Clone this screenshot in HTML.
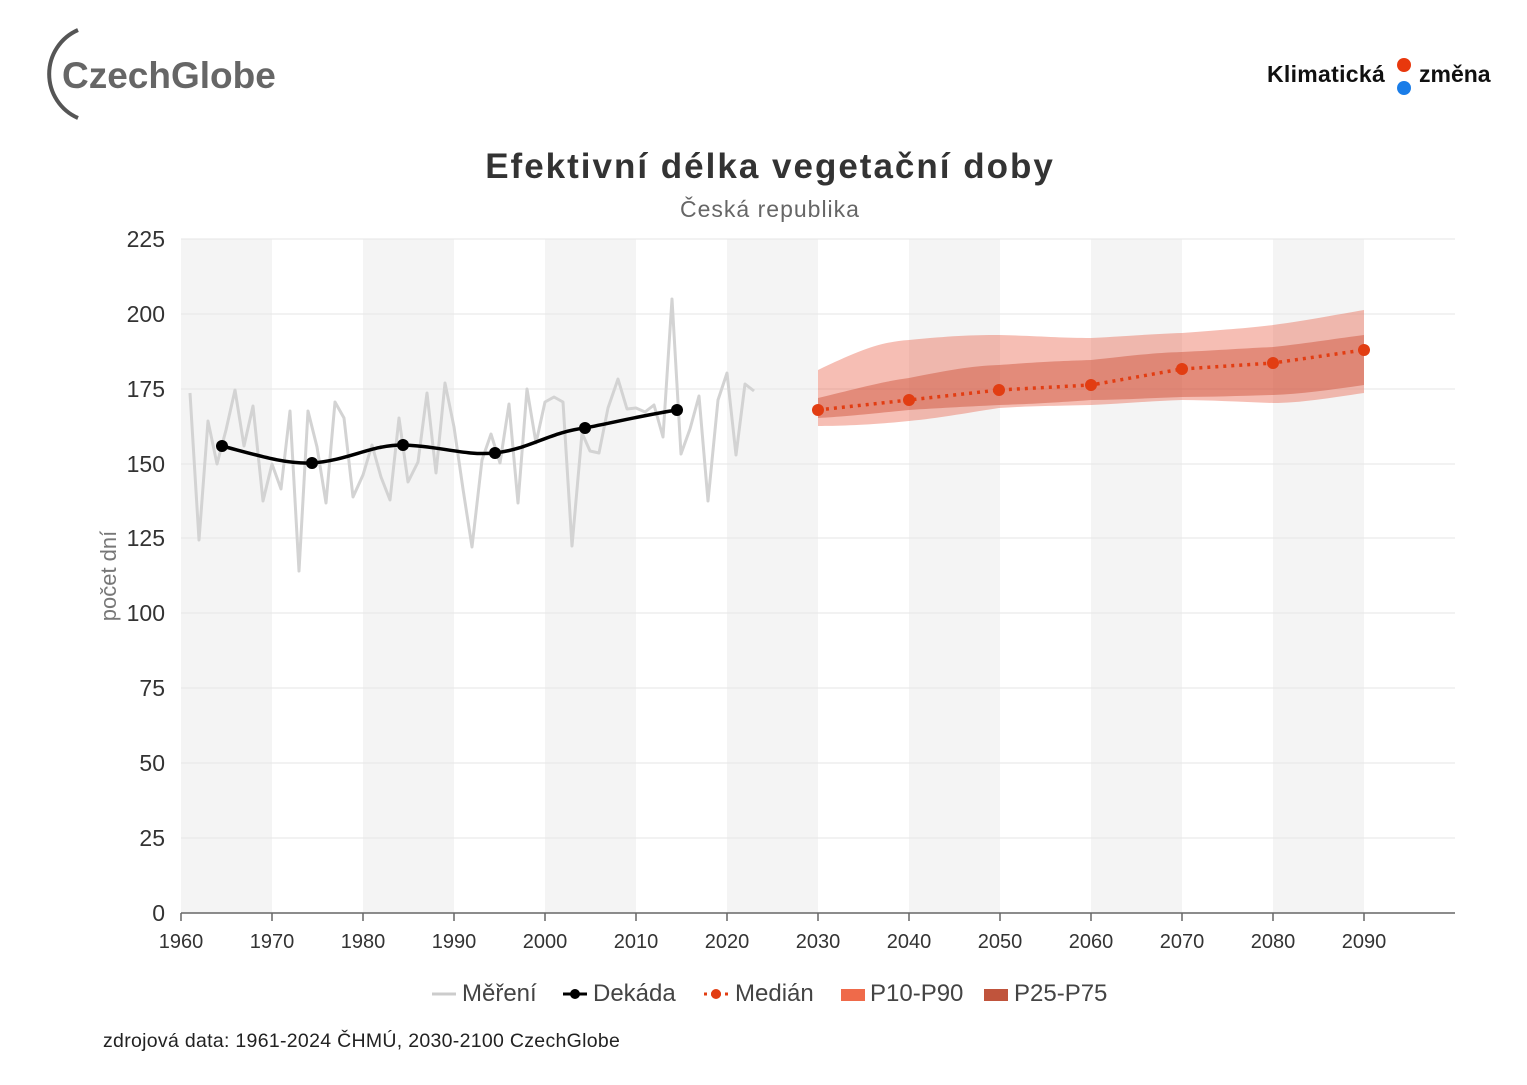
<!DOCTYPE html>
<html><head><meta charset="utf-8"><style>
body{margin:0;background:#fff;font-family:"Liberation Sans",sans-serif}
</style></head><body>
<svg width="1527" height="1080" xmlns="http://www.w3.org/2000/svg" font-family="Liberation Sans, sans-serif">
<rect width="1527" height="1080" fill="#fff"/>
<!-- logo -->
<path d="M78,30 A48,48 0 0 0 78,118" fill="none" stroke="#555" stroke-width="4"/>
<text x="62" y="88" font-size="37" font-weight="bold" fill="#666" letter-spacing="0">CzechGlobe</text>
<text x="1267" y="82" font-size="23" font-weight="bold" fill="#111" letter-spacing="0.3">Klimatická</text>
<circle cx="1404" cy="65" r="7" fill="#e8380d"/><circle cx="1404" cy="88" r="7" fill="#1a7de8"/>
<text x="1419" y="82" font-size="23" font-weight="bold" fill="#111">změna</text>
<text x="770" y="178" font-size="35" font-weight="bold" fill="#333" text-anchor="middle" letter-spacing="2">Efektivní délka vegetační doby</text>
<text x="770" y="217" font-size="23" fill="#666" text-anchor="middle" letter-spacing="1">Česká republika</text>
<!-- shaded columns -->
<g fill="#f4f4f4">
<rect x="181" y="239" width="91" height="674"/><rect x="363" y="239" width="91" height="674"/>
<rect x="545" y="239" width="91" height="674"/><rect x="727" y="239" width="91" height="674"/>
<rect x="909" y="239" width="91" height="674"/><rect x="1091" y="239" width="91" height="674"/>
<rect x="1273" y="239" width="91" height="674"/>
</g>
<g stroke="#e6e6e6" stroke-width="1">
<line x1="181" x2="1455" y1="239" y2="239"/><line x1="181" x2="1455" y1="314" y2="314"/>
<line x1="181" x2="1455" y1="389" y2="389"/><line x1="181" x2="1455" y1="464" y2="464"/>
<line x1="181" x2="1455" y1="538" y2="538"/><line x1="181" x2="1455" y1="613" y2="613"/>
<line x1="181" x2="1455" y1="688" y2="688"/><line x1="181" x2="1455" y1="763" y2="763"/>
<line x1="181" x2="1455" y1="838" y2="838"/>
</g>
<line x1="181" x2="1455" y1="913" y2="913" stroke="#666" stroke-width="1.5"/>
<g font-size="23" fill="#333" text-anchor="end">
<text x="165" y="247">225</text><text x="165" y="322">200</text><text x="165" y="397">175</text>
<text x="165" y="472">150</text><text x="165" y="546">125</text><text x="165" y="621">100</text>
<text x="165" y="696">75</text><text x="165" y="771">50</text><text x="165" y="846">25</text><text x="165" y="921">0</text>
</g>
<text transform="translate(116,576) rotate(-90)" font-size="22" fill="#777" text-anchor="middle">počet dní</text>
<g font-size="20" fill="#333" text-anchor="middle" stroke="#666">
<g stroke-width="1.5">
<line x1="181" x2="181" y1="913" y2="921"/><line x1="272" x2="272" y1="913" y2="921"/><line x1="363" x2="363" y1="913" y2="921"/><line x1="454" x2="454" y1="913" y2="921"/><line x1="545" x2="545" y1="913" y2="921"/><line x1="636" x2="636" y1="913" y2="921"/><line x1="727" x2="727" y1="913" y2="921"/><line x1="818" x2="818" y1="913" y2="921"/><line x1="909" x2="909" y1="913" y2="921"/><line x1="1000" x2="1000" y1="913" y2="921"/><line x1="1091" x2="1091" y1="913" y2="921"/><line x1="1182" x2="1182" y1="913" y2="921"/><line x1="1273" x2="1273" y1="913" y2="921"/><line x1="1364" x2="1364" y1="913" y2="921"/>
</g>
<g stroke="none">
<text x="181" y="948">1960</text><text x="272" y="948">1970</text><text x="363" y="948">1980</text><text x="454" y="948">1990</text><text x="545" y="948">2000</text><text x="636" y="948">2010</text><text x="727" y="948">2020</text><text x="818" y="948">2030</text><text x="909" y="948">2040</text><text x="1000" y="948">2050</text><text x="1091" y="948">2060</text><text x="1182" y="948">2070</text><text x="1273" y="948">2080</text><text x="1364" y="948">2090</text>
</g></g>
<!-- bands -->
<path d="M818,370 C860,350 880,342 909,340 C950,336 970,335 999,335 C1040,336 1060,338 1091,338 C1130,336 1150,334 1182,333 C1220,330 1250,328 1273,325 C1310,320 1340,314 1364,310 L1364,393 C1330,398 1300,403 1273,403 C1240,402 1210,400 1182,400 C1150,401 1120,404 1091,405 C1050,406 1030,406 999,408 C960,414 940,418 909,421 C870,425 840,426 818,426 Z" fill="#e8553b" fill-opacity="0.38"/>
<path d="M818,398 C860,388 880,382 909,378 C950,370 970,366 999,365 C1040,362 1060,361 1091,360 C1130,356 1150,353 1182,352 C1220,350 1250,348 1273,347 C1310,343 1340,338 1364,335 L1364,385 C1330,390 1300,394 1273,395 C1240,396 1210,397 1182,397 C1150,398 1120,400 1091,400 C1050,403 1030,404 999,405 C960,407 940,408 909,410 C870,414 840,417 818,418 Z" fill="#c8442c" fill-opacity="0.42"/>
<!-- gray -->
<polyline fill="none" stroke="#d3d3d3" stroke-width="3" stroke-linejoin="round" points="190,393 199,540 208,421 217,464 226,430 235,390 244,446 253,406 263,501 272,464 281,489 290,411 299,571 308,411 317,447 326,503 335,402 344,418 353,497 363,475 372,445 381,477 390,500 399,418 408,482 418,462 427,393 436,473 445,383 454,427 463,489 472,547 482,460 491,434 500,463 509,404 518,503 527,389 536,443 545,402 554,397 563,402 572,546 582,433 590,451 599,453 608,408 618,379 627,409 636,408 645,412 654,405 663,437 672,299 681,454 690,429 699,396 708,501 718,400 727,373 736,455 745,384 754,391"/>
<!-- decade -->
<path d="M222,446 C260,456 285,464 312,463 C350,460 370,445 403,445 C440,446 465,456 495,453 C530,449 550,432 585,428 C620,421 650,414 677,410" fill="none" stroke="#000" stroke-width="3.5"/>
<g fill="#000"><circle cx="222" cy="446" r="6"/><circle cx="312" cy="463" r="6"/><circle cx="403" cy="445" r="6"/><circle cx="495" cy="453" r="6"/><circle cx="585" cy="428" r="6"/><circle cx="677" cy="410" r="6"/></g>
<!-- median -->
<polyline fill="none" stroke="#e23d12" stroke-width="3.5" stroke-dasharray="3,5" points="818,410 909,400 999,390 1091,385 1182,369 1273,363 1364,350"/>
<g fill="#e23d12"><circle cx="818" cy="410" r="6"/><circle cx="909" cy="400" r="6"/><circle cx="999" cy="390" r="6"/><circle cx="1091" cy="385" r="6"/><circle cx="1182" cy="369" r="6"/><circle cx="1273" cy="363" r="6"/><circle cx="1364" cy="350" r="6"/></g>
<!-- legend -->
<g font-size="24" fill="#444">
<line x1="432" x2="456" y1="994" y2="994" stroke="#ccc" stroke-width="3"/><text x="462" y="1001">Měření</text>
<line x1="563" x2="587" y1="994" y2="994" stroke="#000" stroke-width="3"/><circle cx="575" cy="994" r="5" fill="#000"/><text x="593" y="1001">Dekáda</text>
<line x1="704" x2="728" y1="994" y2="994" stroke="#e23d12" stroke-width="3" stroke-dasharray="3,4"/><circle cx="716" cy="994" r="5" fill="#e23d12"/><text x="735" y="1001">Medián</text>
<rect x="841" y="989" width="24" height="12" fill="#ef6a4a"/><text x="870" y="1001">P10-P90</text>
<rect x="984" y="989" width="24" height="12" fill="#c0543c"/><text x="1014" y="1001">P25-P75</text>
</g>
<text x="103" y="1047" font-size="19.5" fill="#222" letter-spacing="0.3">zdrojová data: 1961-2024 ČHMÚ, 2030-2100 CzechGlobe</text>
</svg>
</body></html>
